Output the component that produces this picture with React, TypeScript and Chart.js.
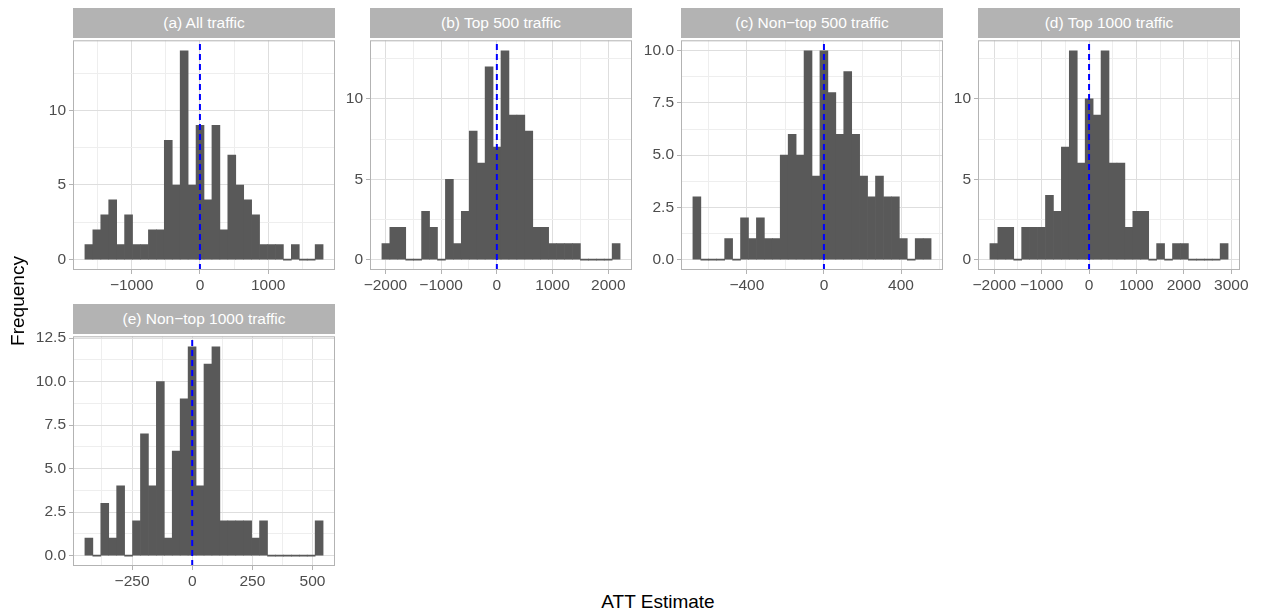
import React, { useEffect, useRef } from 'react';
import { Chart, registerables } from 'chart.js';

Chart.register(...registerables);

// ---------- DATA ----------
const A_TITLE = '(a) All traffic';
const A_BIN_START = -1685;
const A_BIN_WIDTH = 116.3;
const A_COUNTS = [1, 2, 3, 4, 1, 3, 1, 1, 2, 2, 8, 5, 14, 5, 9, 4, 9, 2, 7, 5, 4, 3, 1, 1, 1, 0, 1, 0, 0, 1];
const A_X_TICKS = [-1000, 0, 1000];
const A_X_MINOR = [-1500, -500, 500, 1500];
const A_Y_TICKS = [0, 5, 10];
const A_Y_MINOR = [2.5, 7.5, 12.5];

const B_TITLE = '(b) Top 500 traffic';
const B_BIN_START = -2063;
const B_BIN_WIDTH = 142.5;
const B_COUNTS = [1, 2, 2, 0, 0, 3, 2, 0, 5, 1, 3, 8, 6, 12, 7, 13, 9, 9, 8, 2, 2, 1, 1, 1, 1, 0, 0, 0, 0, 1];
const B_X_TICKS = [-2000, -1000, 0, 1000, 2000];
const B_X_MINOR = [-1500, -500, 500, 1500];
const B_Y_TICKS = [0, 5, 10];
const B_Y_MINOR = [2.5, 7.5, 12.5];

const C_TITLE = '(c) Non\u2212top 500 traffic';
const C_BIN_START = -680;
const C_BIN_WIDTH = 41.2;
const C_COUNTS = [3, 0, 0, 0, 1, 0, 2, 1, 2, 1, 1, 5, 6, 5, 10, 4, 10, 8, 6, 9, 6, 4, 3, 4, 3, 3, 1, 0, 1, 1];
const C_X_TICKS = [-400, 0, 400];
const C_X_MINOR = [-600, -200, 200, 600];
const C_Y_TICKS = [0, 2.5, 5, 7.5, 10];
const C_Y_MINOR = [1.25, 3.75, 6.25, 8.75];

const D_TITLE = '(d) Top 1000 traffic';
const D_BIN_START = -2092;
const D_BIN_WIDTH = 167.5;
const D_COUNTS = [1, 2, 2, 0, 2, 2, 2, 4, 3, 7, 13, 6, 10, 9, 13, 6, 6, 2, 3, 3, 0, 1, 0, 1, 1, 0, 0, 0, 0, 1];
const D_X_TICKS = [-2000, -1000, 0, 1000, 2000, 3000];
const D_X_MINOR = [-1500, -500, 500, 1500, 2500];
const D_Y_TICKS = [0, 5, 10];
const D_Y_MINOR = [2.5, 7.5, 12.5];

const E_TITLE = '(e) Non\u2212top 1000 traffic';
const E_BIN_START = -446;
const E_BIN_WIDTH = 33.0;
const E_COUNTS = [1, 0, 3, 1, 4, 0, 2, 7, 4, 10, 1, 6, 9, 12, 4, 11, 12, 2, 2, 2, 2, 1, 2, 0, 0, 0, 0, 0, 0, 2];
const E_X_TICKS = [-250, 0, 250, 500];
const E_X_MINOR = [-375, -125, 125, 375];
const E_Y_TICKS = [0, 2.5, 5, 7.5, 10, 12.5];
const E_Y_MINOR = [1.25, 3.75, 6.25, 8.75, 11.25];

const REF_LINE_X = 0;
const X_TITLE = 'ATT Estimate';
const Y_TITLE = 'Frequency';

// ---------- STYLE / LAYOUT ----------
const FONT = "'Liberation Sans', Arial, Helvetica, sans-serif";
const BAR_FILL = '#595959';
const GRID_MAJOR = '#dedede';
const GRID_MINOR = '#eeeeee';
const BORDER = '#b3b3b3';
const STRIP_BG = '#b3b3b3';
const TICK_TEXT = '#4d4d4d';
const TICK_FONT_SIZE = 15.5;
const STRIP_FONT_SIZE = 15.5;
const TITLE_FONT_SIZE = 19;
const PLOT_W = 262;
const PLOT_H = 232;
const STRIP_H = 30;
const Y_AXIS_W = 60;
const X_AXIS_H = 35;
const PAD_TOP = 10;
const PAD_RIGHT = 25;

type PanelCfg = {
  title: string;
  binStart: number;
  binWidth: number;
  counts: number[];
  xTicks: number[];
  xMinor: number[];
  yTicks: number[];
  yMinor: number[];
  yDecimals: number;
  left: number;
  top: number;
};

const PANELS: PanelCfg[] = [
  { title: A_TITLE, binStart: A_BIN_START, binWidth: A_BIN_WIDTH, counts: A_COUNTS, xTicks: A_X_TICKS, xMinor: A_X_MINOR, yTicks: A_Y_TICKS, yMinor: A_Y_MINOR, yDecimals: 0, left: 73, top: 38 },
  { title: B_TITLE, binStart: B_BIN_START, binWidth: B_BIN_WIDTH, counts: B_COUNTS, xTicks: B_X_TICKS, xMinor: B_X_MINOR, yTicks: B_Y_TICKS, yMinor: B_Y_MINOR, yDecimals: 0, left: 370, top: 38 },
  { title: C_TITLE, binStart: C_BIN_START, binWidth: C_BIN_WIDTH, counts: C_COUNTS, xTicks: C_X_TICKS, xMinor: C_X_MINOR, yTicks: C_Y_TICKS, yMinor: C_Y_MINOR, yDecimals: 1, left: 681, top: 38 },
  { title: D_TITLE, binStart: D_BIN_START, binWidth: D_BIN_WIDTH, counts: D_COUNTS, xTicks: D_X_TICKS, xMinor: D_X_MINOR, yTicks: D_Y_TICKS, yMinor: D_Y_MINOR, yDecimals: 0, left: 978, top: 38 },
  { title: E_TITLE, binStart: E_BIN_START, binWidth: E_BIN_WIDTH, counts: E_COUNTS, xTicks: E_X_TICKS, xMinor: E_X_MINOR, yTicks: E_Y_TICKS, yMinor: E_Y_MINOR, yDecimals: 1, left: 73, top: 334 },
];

function fmt(v: number, dec: number): string {
  const s = Math.abs(v).toFixed(dec);
  return v < 0 ? '\u2212' + s : s;
}

const borderPlugin = {
  id: 'panelBorder',
  afterDraw(chart: any) {
    const { ctx, chartArea } = chart;
    ctx.save();
    ctx.strokeStyle = BORDER;
    ctx.lineWidth = 1;
    ctx.strokeRect(chartArea.left + 0.5, chartArea.top + 0.5, chartArea.width - 1, chartArea.height - 1);
    ctx.restore();
  },
};

function Panel({ cfg }: { cfg: PanelCfg }) {
  const ref = useRef<HTMLCanvasElement | null>(null);
  useEffect(() => {
    if (!ref.current) return;
    const n = cfg.counts.length;
    const span = cfg.binWidth * n;
    const xMin = cfg.binStart - 0.05 * span;
    const xMax = cfg.binStart + span + 0.05 * span;
    const maxC = Math.max(...cfg.counts);
    const yMin = -0.05 * maxC;
    const yMax = 1.05 * maxC;
    const bars = cfg.counts.map((c, i) => ({ x: cfg.binStart + cfg.binWidth * (i + 0.5), y: c }));
    const xMinorSet = new Set(cfg.xMinor);
    const yMinorSet = new Set(cfg.yMinor);
    const xAll = [...cfg.xTicks, ...cfg.xMinor].sort((a, b) => a - b);
    const yAll = [...cfg.yTicks, ...cfg.yMinor].sort((a, b) => a - b);

    const chart = new Chart(ref.current, {
      type: 'bar',
      data: {
        datasets: [
          {
            type: 'line',
            data: [
              { x: REF_LINE_X, y: yMin },
              { x: REF_LINE_X, y: yMax },
            ],
            borderColor: '#0000ff',
            borderWidth: 2,
            borderDash: [6, 4],
            pointRadius: 0,
            fill: false,
            tension: 0,
            order: 0,
          } as any,
          {
            type: 'bar',
            data: bars,
            backgroundColor: BAR_FILL,
            borderWidth: 0,
            barPercentage: 1,
            categoryPercentage: 1,
            minBarLength: 1,
            grouped: false,
            order: 1,
          } as any,
        ],
      },
      options: {
        responsive: false,
        animation: false,
        events: [],
        layout: { padding: { top: PAD_TOP, right: PAD_RIGHT, left: 0, bottom: 0 }, autoPadding: false } as any,
        plugins: { legend: { display: false }, tooltip: { enabled: false } },
        scales: {
          x: {
            type: 'linear',
            min: xMin,
            max: xMax,
            offset: false,
            border: { display: false },
            grid: {
              offset: false,
              lineWidth: 1,
              color: (c: any) => (c.tick && xMinorSet.has(c.tick.value) ? GRID_MINOR : GRID_MAJOR),
              tickColor: (c: any) => (c.tick && xMinorSet.has(c.tick.value) ? 'rgba(0,0,0,0)' : BORDER),
              tickLength: 4,
            },
            ticks: {
              autoSkip: false,
              maxRotation: 0,
              minRotation: 0,
              padding: 2,
              color: TICK_TEXT,
              font: { family: FONT, size: TICK_FONT_SIZE },
              callback: (v: any) => (xMinorSet.has(Number(v)) ? '' : fmt(Number(v), 0)),
            },
            afterBuildTicks: (s: any) => {
              s.ticks = xAll.map((v) => ({ value: v }));
            },
            afterFit: (s: any) => {
              s.height = X_AXIS_H;
            },
          } as any,
          y: {
            type: 'linear',
            min: yMin,
            max: yMax,
            border: { display: false },
            grid: {
              lineWidth: 1,
              color: (c: any) => (c.tick && yMinorSet.has(c.tick.value) ? GRID_MINOR : GRID_MAJOR),
              tickColor: (c: any) => (c.tick && yMinorSet.has(c.tick.value) ? 'rgba(0,0,0,0)' : BORDER),
              tickLength: 4,
            },
            ticks: {
              autoSkip: false,
              padding: 3,
              color: TICK_TEXT,
              font: { family: FONT, size: TICK_FONT_SIZE },
              callback: (v: any) => (yMinorSet.has(Number(v)) ? '' : fmt(Number(v), cfg.yDecimals)),
            },
            afterBuildTicks: (s: any) => {
              s.ticks = yAll.map((v) => ({ value: v }));
            },
            afterFit: (s: any) => {
              s.width = Y_AXIS_W;
            },
          } as any,
        },
      },
      plugins: [borderPlugin],
    });
    return () => chart.destroy();
  }, [cfg]);

  const cw = Y_AXIS_W + PLOT_W + PAD_RIGHT;
  const ch = PAD_TOP + PLOT_H + X_AXIS_H;
  return (
    <>
      <canvas
        ref={ref}
        width={cw}
        height={ch}
        style={{ position: 'absolute', left: cfg.left - Y_AXIS_W, top: cfg.top - PAD_TOP, width: cw, height: ch }}
      />
      <div
        style={{
          position: 'absolute',
          left: cfg.left,
          top: cfg.top - STRIP_H,
          width: PLOT_W,
          height: STRIP_H,
          background: STRIP_BG,
          color: '#ffffff',
          fontFamily: FONT,
          fontSize: STRIP_FONT_SIZE,
          lineHeight: STRIP_H + 'px',
          textAlign: 'center',
          whiteSpace: 'nowrap',
        }}
      >
        {cfg.title}
      </div>
    </>
  );
}

export default function App() {
  return (
    <div style={{ position: 'absolute', left: 0, top: 0, width: 1261, height: 613, background: '#ffffff', overflow: 'hidden' }}>
      {PANELS.map((p) => (
        <Panel key={p.title} cfg={p} />
      ))}
      <div
        style={{
          position: 'absolute',
          left: 18 - 100,
          top: 301 - 11,
          width: 200,
          height: 22,
          lineHeight: '22px',
          textAlign: 'center',
          fontFamily: FONT,
          fontSize: TITLE_FONT_SIZE,
          color: '#000000',
          transform: 'rotate(-90deg)',
        }}
      >
        {Y_TITLE}
      </div>
      <div
        style={{
          position: 'absolute',
          left: 658 - 100,
          top: 602 - 11,
          width: 200,
          height: 22,
          lineHeight: '22px',
          textAlign: 'center',
          fontFamily: FONT,
          fontSize: TITLE_FONT_SIZE,
          color: '#000000',
        }}
      >
        {X_TITLE}
      </div>
    </div>
  );
}
